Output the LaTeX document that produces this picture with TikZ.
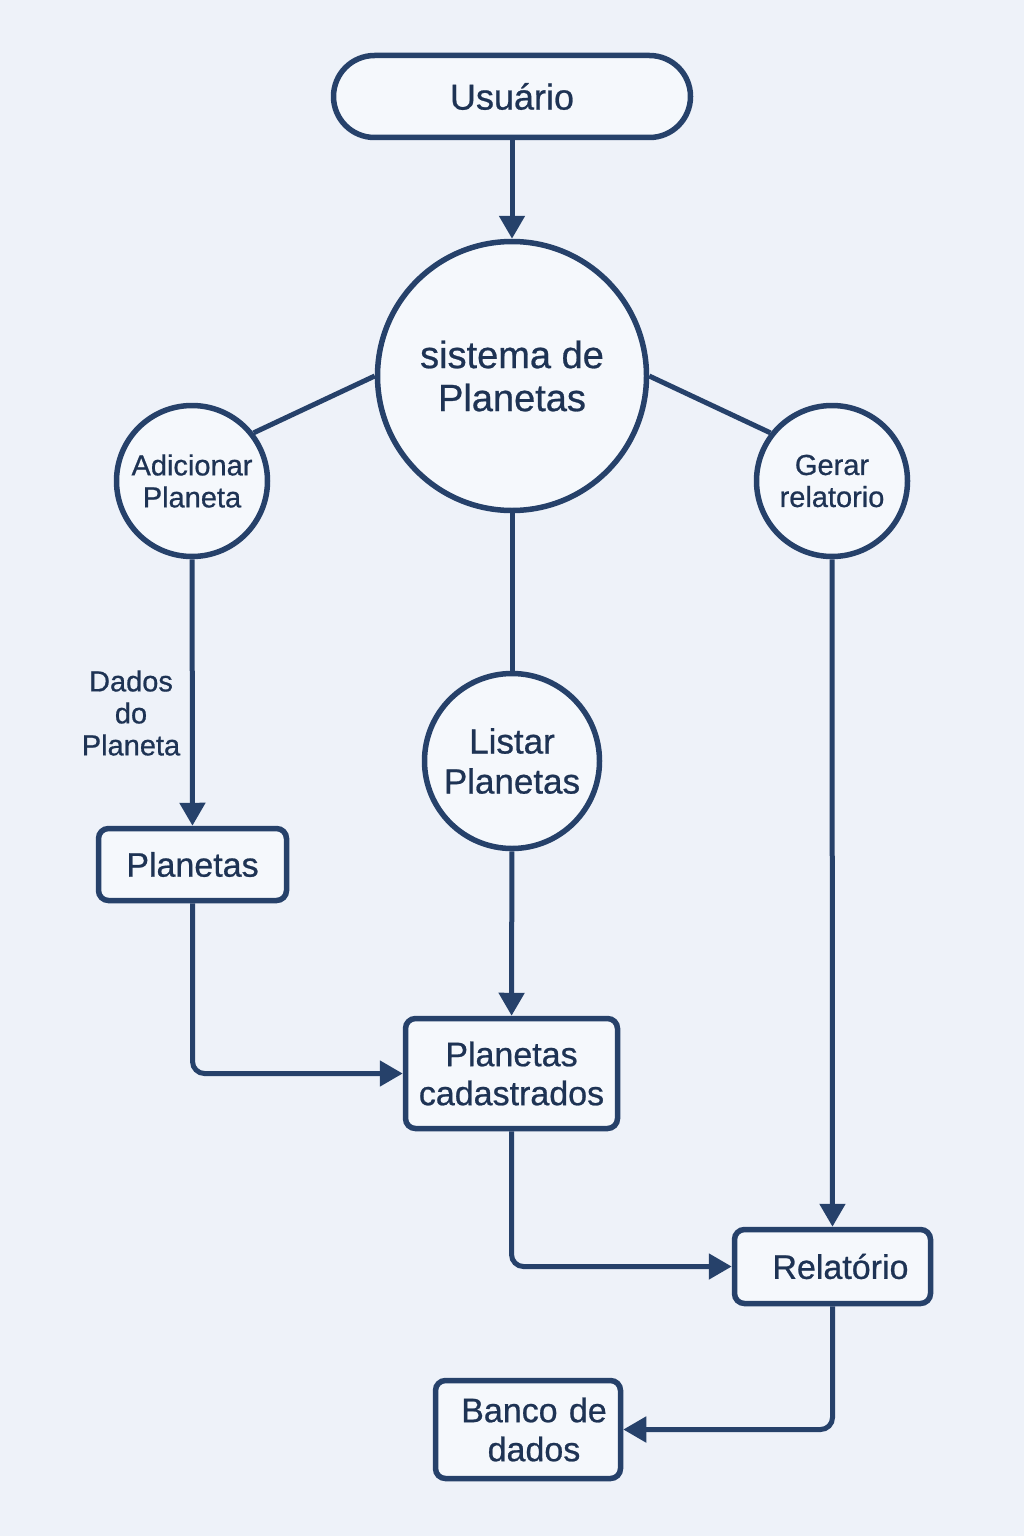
\documentclass[tikz,border=0pt]{standalone}
\usepackage{fontspec}
\setmainfont[FakeBold=0.7]{Liberation Sans}
\usetikzlibrary{arrows.meta}
\definecolor{navy}{HTML}{26416A}
\definecolor{txt}{HTML}{1E3354}
\definecolor{bg}{HTML}{EEF2F9}
\definecolor{nf}{HTML}{F5F8FC}
\begin{document}
\begin{tikzpicture}[x=1pt,y=-1pt,
 base/.style={draw=navy, line width=5.5pt, fill=nf, text=txt, align=center, inner sep=0pt},
 circ/.style={base, circle},
 box/.style={base, rectangle, rounded corners=10pt, font=\fontsize{34}{39}\selectfont},
 conn/.style={draw=navy, line width=5pt},
 arr/.style={conn, -{Triangle[length=23pt,width=25pt]}},
 ]
\fill[bg] (0,0) rectangle (1024,1536);
\useasboundingbox (0,0) rectangle (1024,1536);
\node[base, rounded corners=41pt, minimum width=357pt, minimum height=82pt, font=\fontsize{36}{40}\selectfont] (usr) at (512,96.5) {Usuário};
\node[circ, minimum size=269pt, font=\fontsize{38}{43}\selectfont] (sis) at (512,376) {sistema de\\Planetas};
\node[circ, minimum size=151pt, font=\fontsize{29}{32}\selectfont] (add) at (192,481) {Adicionar\\Planeta};
\node[circ, minimum size=151pt, font=\fontsize{29}{32}\selectfont] (ger) at (832,481) {Gerar\\relatorio};
\node[circ, minimum size=175pt, font=\fontsize{35}{40}\selectfont] (lis) at (512,761) {Listar\\Planetas};
\node[box, minimum width=188pt, minimum height=72pt] (pl) at (192.5,864.5) {Planetas};
\node[box, minimum width=212pt, minimum height=110pt] (cad) at (511.5,1073.5) {Planetas\\cadastrados};
\node[box, minimum width=196pt, minimum height=74pt, text width=188pt, align=right] (rel) at (832.5,1266.5) {Relatório\hspace*{18pt}};
\node[box, minimum width=185pt, minimum height=98pt, text width=177pt, align=center] (ban) at (528,1429.5) {\hspace*{12pt}Banco de\\\hspace*{12pt}dados};
\node[text=txt, align=center, font=\fontsize{29}{32}\selectfont] (lbl) at (131,713) {Dados\\do\\Planeta};
\draw[arr] (usr) -- (sis);
\draw[conn] (sis.west) -- (add.38);
\draw[conn] (sis.east) -- (ger.142);
\draw[conn] (sis) -- (lis);
\draw[arr] (add) -- (pl);
\draw[arr] (lis) -- (cad);
\draw[arr] (ger) -- (rel);
\draw[arr, rounded corners=12pt] (pl.south) |- (cad.west);
\draw[arr, rounded corners=12pt] (cad.south) |- (rel.west);
\draw[arr, rounded corners=12pt] (rel.south) |- (ban.east);
\end{tikzpicture}
\end{document}
